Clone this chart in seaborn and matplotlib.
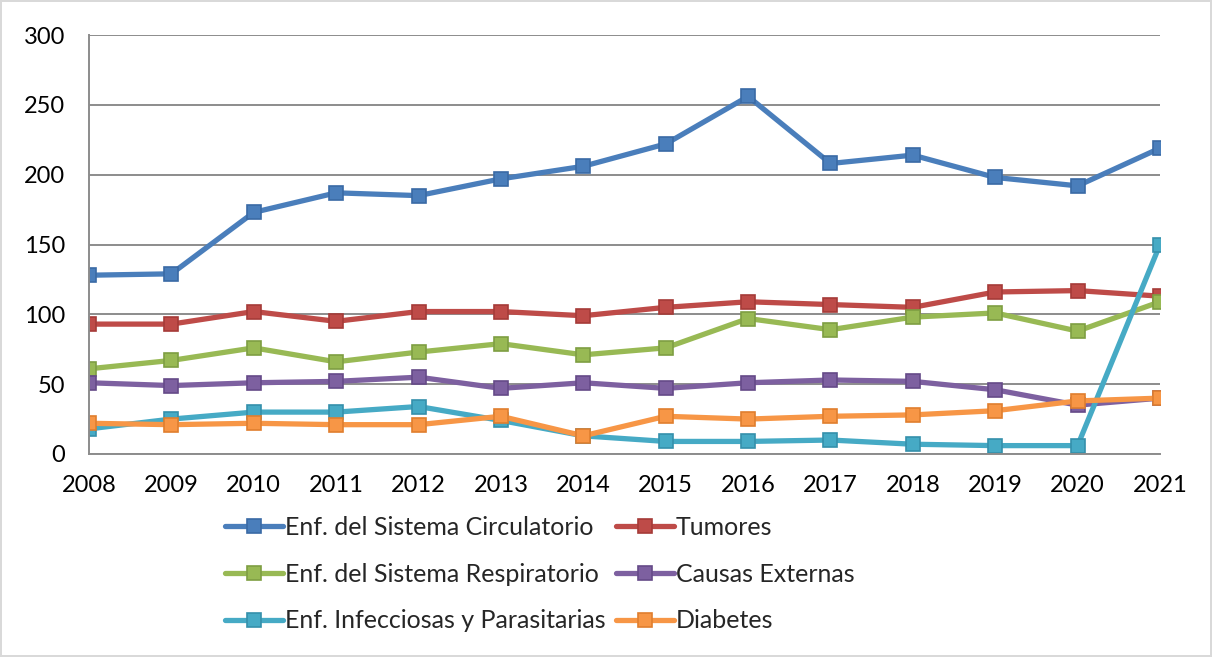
import numpy as np
import pandas as pd
import seaborn as sns
import matplotlib.pyplot as plt

sns.set_style("white")
plt.rcParams['font.family'] = ['Lato', 'DejaVu Sans']

years = list(range(2008, 2022))
circulatorio = [128, 129, 173, 187, 185, 197, 206, 222, 256, 208, 214, 198, 192, 219]
tumores = [93, 93, 102, 95, 102, 102, 99, 105, 109, 107, 105, 116, 117, 113]
respiratorio = [61, 67, 76, 66, 73, 79, 71, 76, 97, 89, 98, 101, 88, 109]
externas = [51, 49, 51, 52, 55, 47, 51, 47, 51, 53, 52, 46, 35, 40]
infecciosas = [18, 25, 30, 30, 34, 24, 13, 9, 9, 10, 7, 6, 6, 150]
diabetes = [22, 21, 22, 21, 21, 27, 13, 27, 25, 27, 28, 31, 38, 40]

names = ["Enf. del Sistema Circulatorio", "Tumores", "Enf. del Sistema Respiratorio",
         "Causas Externas", "Enf. Infecciosas y Parasitarias", "Diabetes"]
series = [circulatorio, tumores, respiratorio, externas, infecciosas, diabetes]
colors = ["#4A7EBB", "#BE4B48", "#98B954", "#7D60A0", "#46AAC5", "#F79646"]
edges = ["#3A6AA5", "#A53B38", "#7E9E42", "#654A88", "#3590AB", "#E07E2E"]

df = pd.concat([pd.DataFrame({"year": years, "value": v, "causa": n})
                for n, v in zip(names, series)])

fig = plt.figure(figsize=(12.12, 6.57), dpi=100, linewidth=1.5, edgecolor="#d9d9d9")
ax = fig.add_axes([89 / 1212, 1 - 454 / 657, (1160 - 89) / 1212, (454 - 35) / 657])

sns.lineplot(data=df, x="year", y="value", hue="causa", hue_order=names,
             palette=colors, marker="s", markersize=10, linewidth=3.8,
             dashes=False, ax=ax, legend=False)
for line, ec in zip(ax.lines, edges):
    line.set_markeredgecolor(ec)
    line.set_markeredgewidth(1.2)

ax.set_xlim(2008, 2021)
ax.set_ylim(0, 300)
ax.set_xticks(years)
ax.set_yticks(range(0, 301, 50))
ax.set_xlabel("")
ax.set_ylabel("")
ax.grid(axis="y", color="#8c8c8c", linewidth=1.4)
ax.set_axisbelow(True)
for s in ["top", "right"]:
    ax.spines[s].set_visible(False)
for s in ["left", "bottom"]:
    ax.spines[s].set_color("#8c8c8c")
    ax.spines[s].set_linewidth(1.4)
ax.tick_params(axis="both", labelsize=17, colors="#8c8c8c", labelcolor="black",
               direction="out", length=5, width=1.4)
ax.tick_params(axis="y", pad=12)
ax.tick_params(axis="x", pad=10)

handles = [plt.Line2D([], [], color=c, marker="s", markersize=10, linewidth=3.8,
                      markeredgecolor=e, markeredgewidth=1.2)
           for c, e in zip(colors, edges)]
order = [0, 2, 4, 1, 3, 5]
fig.legend([handles[i] for i in order], [names[i] for i in order],
           loc="center", bbox_to_anchor=(540 / 1212, 1 - 574 / 657), ncol=2,
           frameon=False, fontsize=18, handlelength=2.3, handletextpad=0.1,
           columnspacing=0.4, labelspacing=0.95)

fig.savefig("out.png", dpi=100)
